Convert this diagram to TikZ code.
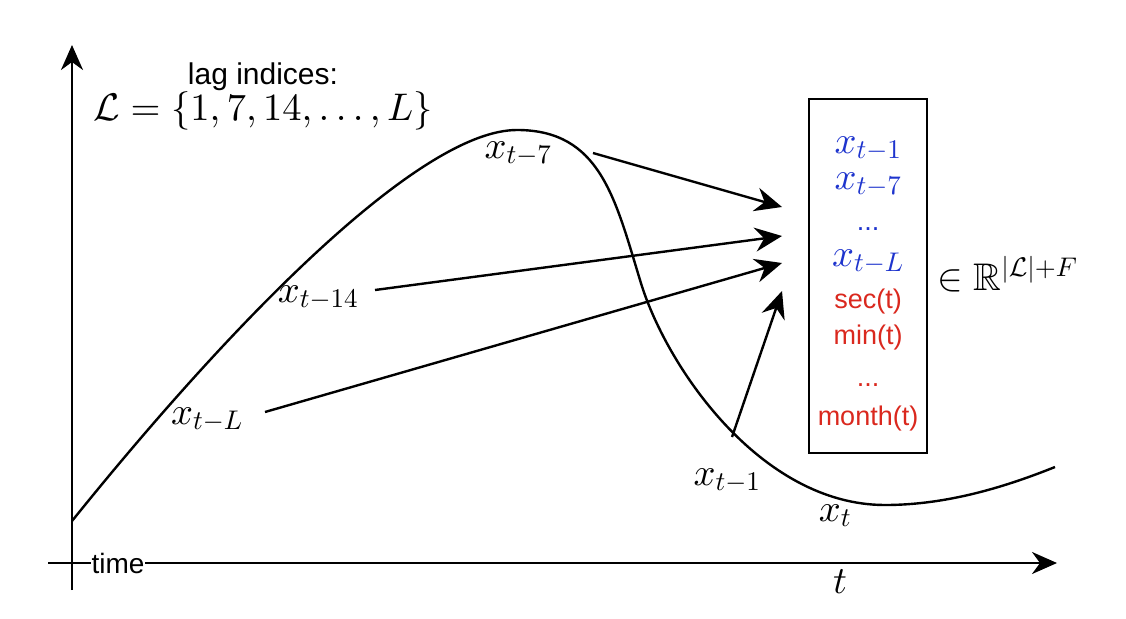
\documentclass[tikz,border=0pt]{standalone}
\usepackage{amsmath}
\usepackage{amssymb}
\usepackage{fontspec}
\setsansfont{Liberation Sans}
\DeclareFontShape{OML}{cmm}{m}{it}{<->cmmi10}{}
\DeclareFontShape{OMS}{cmsy}{m}{n}{<->cmsy10}{}
\DeclareFontShape{OMX}{cmex}{m}{n}{<->cmex10}{}
\DeclareFontShape{OT1}{cmr}{m}{n}{<->cmr10}{}
\DeclareFontFamily{U}{msb}{}
\DeclareFontShape{U}{msb}{m}{n}{<->msbm10}{}
\usepackage{tikz}
\usetikzlibrary{arrows.meta}
\definecolor{lagblue}{RGB}{30,52,205}
\definecolor{featred}{RGB}{218,40,30}

\begin{document}
\begin{tikzpicture}[x=1pt,y=-1pt,>={Stealth[length=27pt,width=24pt,inset=9pt]},
  every node/.style={inner sep=0pt},
  mathlbl/.style={font=\fontsize{38.5}{44}\selectfont,anchor=base},
  lagrow/.style={mathlbl,text=lagblue},
  featrow/.style={font=\sffamily\fontsize{27}{32}\selectfont,text=featred,
    anchor=base},
  axis/.style={-{Stealth[length=25pt,width=22pt,inset=8pt]},line width=2.4pt},
  link/.style={->,line width=2.4pt}]
 \useasboundingbox (0,0) rectangle (1126,618);
 \coordinate (ybot) at (72,590);
 \coordinate (ytop) at (72,45);
 \coordinate (xl) at (48,563);
 \coordinate (xr) at (1057,563);
 \draw[axis] (xl)--(xr);
 \node[fill=white,inner xsep=1pt,font=\sffamily\fontsize{28}{34}\selectfont]
   (time) at (118,563) {time};
 \draw[axis] (ybot)--(ytop);
 \node[mathlbl] (t) at (840,593) {$t$};
 \node[font=\sffamily\fontsize{30}{34}\selectfont,anchor=base] (lagtxt)
   at (263,84) {lag indices:};
 \node[mathlbl] (lagset) at (263,120) {$\mathcal{L}=\{1,7,14,\dots,L\}$};
 \draw[line width=2.4pt] (72,521) .. controls (233,321) and (420,130) .. (517,130)
   .. controls (600,130) and (615,198) .. (640,280)
   .. controls (665,365) and (760,505) .. (885,505)
   .. controls (950,505) and (1010,485) .. (1055,467);
 \node[mathlbl] (x7) at (518,158) {$x_{t-7}$};
 \node[mathlbl] (x14) at (318,302) {$x_{t-14}$};
 \node[mathlbl] (xL) at (207,424) {$x_{t-L}$};
 \node[mathlbl] (x1) at (727,485) {$x_{t-1}$};
 \node[mathlbl] (xt) at (835,521) {$x_t$};
 \node[draw,line width=2.6pt,minimum width=118pt,minimum height=354pt]
   (feat) at (868,276) {};
 \node[lagrow] (r1) at (868,153) {$x_{t-1}$};
 \node[lagrow] (r2) at (868,189) {$x_{t-7}$};
 \node[lagrow,font=\sffamily\fontsize{27}{32}\selectfont] (r3) at (868,230) {...};
 \node[lagrow] (r4) at (868,266) {$x_{t-L}$};
 \node[featrow] (r5) at (868,308) {sec(t)};
 \node[featrow] (r6) at (868,344) {min(t)};
 \node[featrow] (r7) at (868,386) {...};
 \node[featrow] (r8) at (868,425) {month(t)};
 \node[mathlbl,anchor=base west] (dim) at (937,290) {$\in\mathbb{R}^{|\mathcal{L}|+F}$};
 \coordinate (s7) at (593,153);
 \coordinate (e7) at (782,207);
 \coordinate (s14) at (375,290);
 \coordinate (e14) at (782,236);
 \coordinate (sL) at (265,412);
 \coordinate (eL) at (782,263);
 \coordinate (s1) at (732,437);
 \coordinate (e1) at (782,291);
 \draw[link] (s7)--(e7);
 \draw[link] (s14)--(e14);
 \draw[link] (sL)--(eL);
 \draw[link] (s1)--(e1);
\end{tikzpicture}
\end{document}
